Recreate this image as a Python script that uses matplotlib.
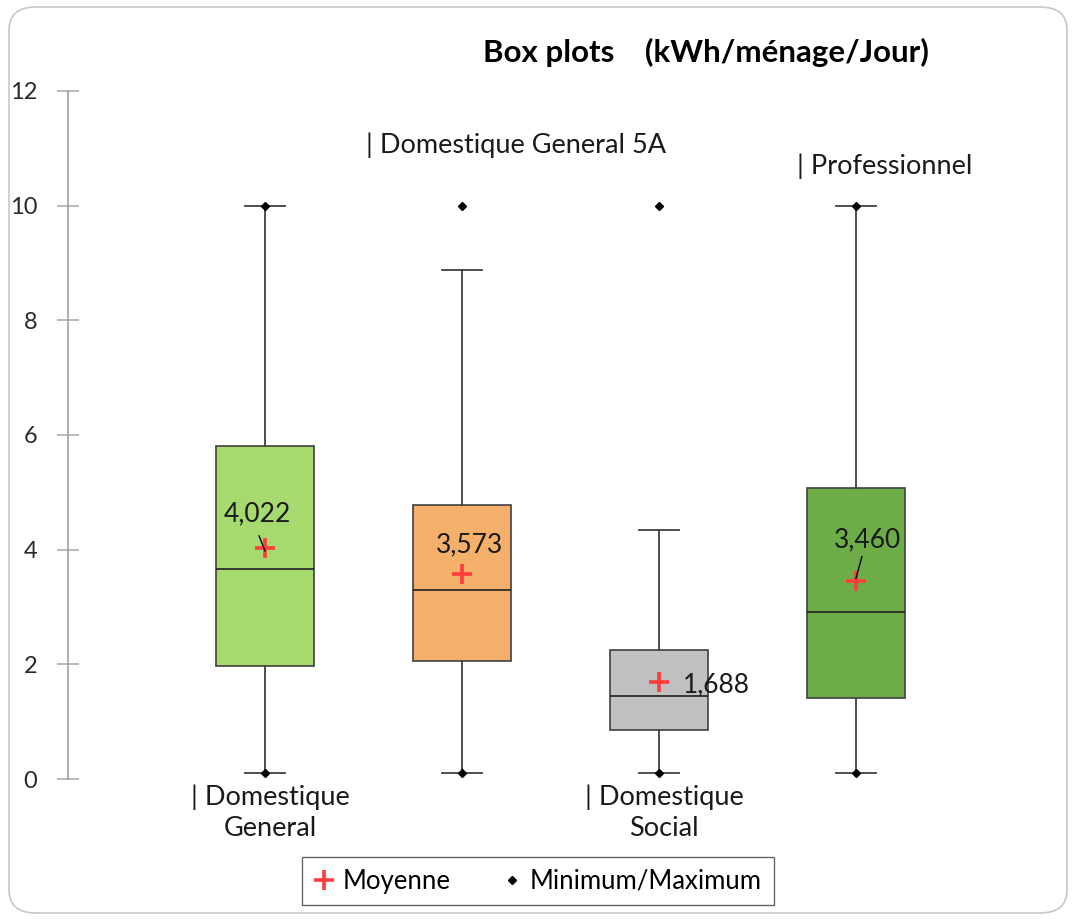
import matplotlib
matplotlib.use("Agg")
import matplotlib.pyplot as plt
from matplotlib.patches import FancyBboxPatch
from matplotlib.lines import Line2D

plt.rcParams['font.family'] = ['Lato', 'DejaVu Sans']

categories = ["| Domestique\nGeneral", "| Domestique General 5A", "| Domestique\nSocial", "| Professionnel"]
q1 = [1.97, 2.06, 0.85, 1.41]
med = [3.66, 3.30, 1.45, 2.91]
q3 = [5.81, 4.78, 2.25, 5.08]
whis_lo = [0.10, 0.10, 0.10, 0.10]
whis_hi = [10.0, 8.88, 4.34, 10.0]
means = [4.022, 3.573, 1.688, 3.460]
mins = [0.10, 0.10, 0.10, 0.10]
maxs = [10.0, 10.0, 10.0, 10.0]
mean_labels = ["4,022", "3,573", "1,688", "3,460"]
colors = ["#A6D96E", "#F4B06A", "#C0C0C0", "#6DAC46"]

W, H = 1078, 919
fig = plt.figure(figsize=(W / 100, H / 100), dpi=100)

# outer rounded frame
frame = FancyBboxPatch((9 / W, 6 / H), 1058 / W, 906 / H,
                       boxstyle="round,pad=0,rounding_size=0.025",
                       transform=fig.transFigure, facecolor="none",
                       edgecolor="#C8C8C8", linewidth=1.2, zorder=-1)
fig.patches.append(frame)

ax = fig.add_axes([68 / W, 1 - 779 / H, (1053 - 68) / W, (779 - 91) / H])
ax.set_facecolor("none")
positions = [1, 2, 3, 4]
stats = []
for i in range(4):
    stats.append(dict(med=med[i], q1=q1[i], q3=q3[i], whislo=whis_lo[i],
                      whishi=whis_hi[i], fliers=[], mean=means[i]))
bp = ax.bxp(stats, positions=positions, widths=0.5, patch_artist=True,
            showfliers=False, showmeans=False,
            boxprops=dict(edgecolor="#404040", linewidth=1.2),
            medianprops=dict(color="#202020", linewidth=1.2),
            whiskerprops=dict(color="#404040", linewidth=1.3),
            capprops=dict(color="#404040", linewidth=1.3), capwidths=0.2)
for patch, c in zip(bp['boxes'], colors):
    patch.set_facecolor(c)

# min / max diamonds
ax.plot(positions, mins, linestyle="none", marker="D", markersize=4, color="black", zorder=5)
ax.plot(positions, maxs, linestyle="none", marker="D", markersize=4, color="black", zorder=5)
# means
ax.plot(positions, means, linestyle="none", marker="+", markersize=14, mew=2.6, color="#FF3B3B", zorder=6)

# mean labels
lab_off = [(-0.04, 0.60), (0.04, 0.52), (0.29, -0.04), (0.06, 0.72)]
for i in range(4):
    ax.text(positions[i] + lab_off[i][0], means[i] + lab_off[i][1], mean_labels[i],
            ha="center", va="center", fontsize=19, color="#1a1a1a", zorder=7)
# leader lines
ax.plot([0.97, 1.0], [4.24, 3.98], color="black", lw=1, zorder=7)
ax.plot([4.03, 4.0], [3.88, 3.50], color="black", lw=1, zorder=7)

ax.set_xlim(0, 5)
ax.set_ylim(0, 12)
ax.set_yticks([0, 2, 4, 6, 8, 10, 12])
ax.set_xticks([])
for s in ["top", "right", "bottom"]:
    ax.spines[s].set_visible(False)
ax.spines["left"].set_color("#A6A6A6")
ax.spines["left"].set_linewidth(1.3)
ax.tick_params(axis="y", direction="inout", length=16, width=1.1, color="#A6A6A6",
               labelsize=17, labelcolor="#2a2a2a", pad=14)

# category labels (staggered)
cat_pos = [(270, 785), (516, 145), (664, 785), (885, 166)]
for (px, py), t in zip(cat_pos, categories):
    fig.text(px / W, 1 - py / H, t, ha="center", va="top" if py > 500 else "center",
             fontsize=19.5, color="#1a1a1a", linespacing=1.3, multialignment="center")

# title
fig.text(706 / W, 1 - 52 / H, "Box plots    (kWh/ménage/Jour)", ha="center", va="center",
         fontsize=22.5, fontweight="bold", color="black")

# legend
handles = [Line2D([], [], linestyle="none", marker="+", markersize=14, mew=2.6, color="#FF3B3B"),
           Line2D([], [], linestyle="none", marker="D", markersize=4, color="black")]
leg = fig.legend(handles, ["Moyenne", "Minimum/Maximum"], loc="center",
                 bbox_to_anchor=(538 / W, 1 - 881 / H), ncol=2, frameon=True,
                 fontsize=18.5, handlelength=0.8, handletextpad=0.3, columnspacing=2.0,
                 fancybox=False, edgecolor="#404040", borderpad=0.45)
leg.get_frame().set_linewidth(1.0)

fig.savefig("out.png", dpi=100)
